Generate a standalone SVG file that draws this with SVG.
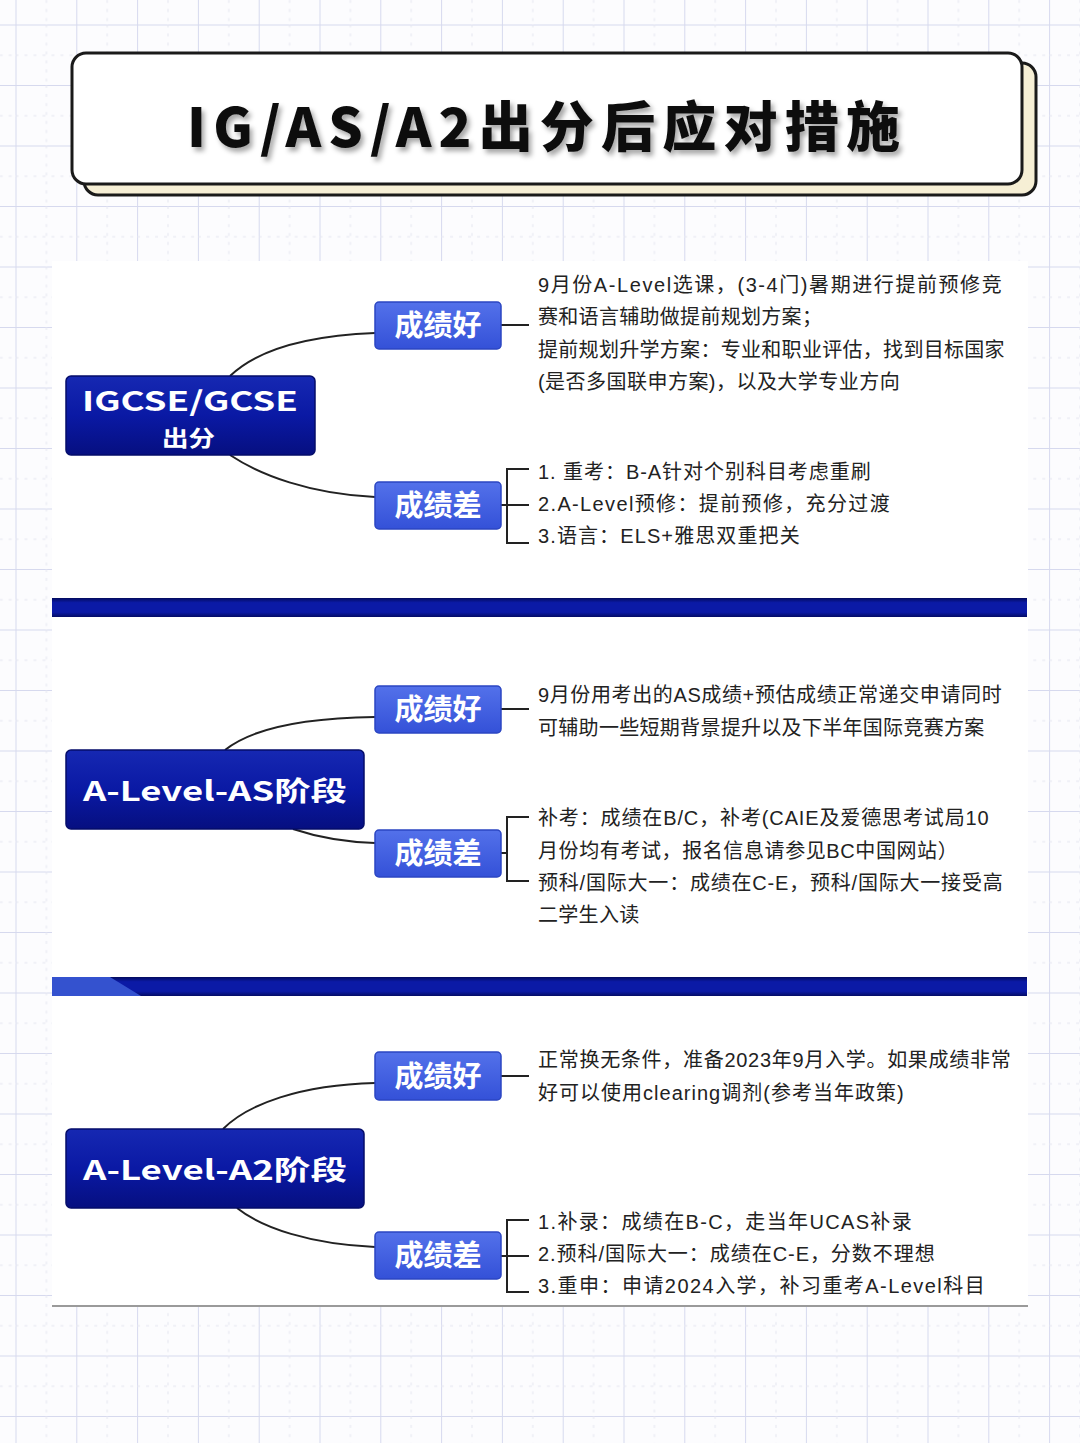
<svg xmlns="http://www.w3.org/2000/svg" width="1080" height="1443" viewBox="0 0 1080 1443">
<defs>
  <pattern id="grid" patternUnits="userSpaceOnUse" x="15.5" y="85" width="60.8" height="60.5">
    <line x1="0.5" y1="0" x2="0.5" y2="60.5" stroke="#d6d9ee" stroke-width="1"/>
    <line x1="0" y1="0.5" x2="60.8" y2="0.5" stroke="#d6d9ee" stroke-width="1"/>
    <line x1="30.9" y1="0" x2="30.9" y2="60.5" stroke="#e4e5f0" stroke-width="1" stroke-dasharray="3 6"/>
    <line x1="0" y1="30.75" x2="60.8" y2="30.75" stroke="#e4e5f0" stroke-width="1" stroke-dasharray="3 6"/>
  </pattern>
  <linearGradient id="rootGrad" x1="0" y1="0" x2="0" y2="1">
    <stop offset="0" stop-color="#1628b2"/>
    <stop offset="0.5" stop-color="#0a19a4"/>
    <stop offset="1" stop-color="#060f80"/>
  </linearGradient>
  <linearGradient id="childGrad" x1="0" y1="0" x2="0" y2="1">
    <stop offset="0" stop-color="#5371ea"/>
    <stop offset="1" stop-color="#3451d8"/>
  </linearGradient>
  <linearGradient id="barGrad" x1="0" y1="0" x2="0" y2="1">
    <stop offset="0" stop-color="#030b5e"/>
    <stop offset="0.25" stop-color="#0b1aa6"/>
    <stop offset="0.75" stop-color="#0b1aa6"/>
    <stop offset="1" stop-color="#040c66"/>
  </linearGradient>
  <filter id="titleShadow" x="-5%" y="-30%" width="110%" height="160%">
    <feDropShadow dx="3" dy="4" stdDeviation="2.5" flood-color="#000" flood-opacity="0.35"/>
  </filter>
  <style>
    .conn { fill: none; stroke: #222; stroke-width: 2; }
    .root { fill: url(#rootGrad); stroke: #050d6a; stroke-width: 1.5; }
    .child { fill: url(#childGrad); stroke: #2b46c2; stroke-width: 1.5; }
    .rootTxt { fill: #fff; font-family: "Noto Sans CJK SC", "Liberation Sans", sans-serif; font-weight: bold; }
    .childTxt { fill: #fff; font-family: "Noto Sans CJK SC", sans-serif; font-weight: bold; font-size: 29px; text-anchor: middle; }
    .body { fill: #222; font-family: "Liberation Sans", "Noto Sans CJK SC", sans-serif; font-size: 20px; letter-spacing: 0.3px; }
    .bar { fill: url(#barGrad); }
  </style>
</defs>

<rect width="1080" height="1443" fill="#fcfcfe"/>
<rect width="1080" height="1443" fill="url(#grid)"/>

<g id="title">
  <rect x="84" y="63" width="952" height="132" rx="14" fill="#f6efd5" stroke="#1a1a1a" stroke-width="3"/>
  <rect x="72" y="53" width="950" height="131" rx="14" fill="#ffffff" stroke="#1a1a1a" stroke-width="3"/>
  <text x="187" y="147" textLength="713" lengthAdjust="spacing" filter="url(#titleShadow)" font-family="'Noto Sans CJK SC', sans-serif" font-weight="900" font-size="54" fill="#111">IG/AS/A2出分后应对措施</text>
</g>

<rect id="panel" x="52" y="261" width="976" height="1045" fill="#ffffff"/>
<line x1="52" y1="1306" x2="1028" y2="1306" stroke="#9a9a9a" stroke-width="2"/>

<g id="separators">
  <rect class="bar" x="52" y="598" width="975" height="19"/>
  <rect class="bar" x="52" y="977" width="975" height="19"/>
  <polygon points="52,977 110,977 141,996 52,996" fill="#3452cf"/>
</g>

<g id="connectors">
  <path class="conn" d="M230,376 C255,352 300,336 375,333"/>
  <path class="conn" d="M230,455 C260,475 310,494 375,497"/>
  <path class="conn" d="M501,325 H529"/>
  <path class="conn" d="M529,469 H507 V543 H529 M501,505 H529"/>

  <path class="conn" d="M225,750 C250,730 300,718 375,717"/>
  <path class="conn" d="M293,829 C320,838 345,842 375,843"/>
  <path class="conn" d="M501,709 H529"/>
  <path class="conn" d="M529,817 H507 V881 H529 M501,853 H507"/>

  <path class="conn" d="M223,1129 C248,1104 300,1085 375,1083"/>
  <path class="conn" d="M237,1208 C262,1228 310,1244 375,1247"/>
  <path class="conn" d="M501,1076 H529"/>
  <path class="conn" d="M529,1220 H507 V1292 H529 M501,1256 H529"/>
</g>

<g id="root-igcse">
  <rect class="root" x="66" y="376" width="249" height="79" rx="5"/>
  <text class="rootTxt" x="82" y="411" font-size="27" textLength="216" lengthAdjust="spacingAndGlyphs" font-family="'Liberation Sans', sans-serif">IGCSE/GCSE</text>
  <text class="rootTxt" x="162" y="446" font-size="22" textLength="53" lengthAdjust="spacingAndGlyphs">出分</text>
</g>
<g id="s1-good">
  <rect class="child" x="375" y="302" width="126" height="47" rx="4"/>
  <text class="childTxt" x="438" y="336">成绩好</text>
</g>
<g id="s1-bad">
  <rect class="child" x="375" y="482" width="126" height="47" rx="4"/>
  <text class="childTxt" x="438" y="516">成绩差</text>
</g>
<g id="s1-good-text">
  <text class="body" x="538" y="292" textLength="464" lengthAdjust="spacing">9月份A-Level选课，(3-4门)暑期进行提前预修竞</text>
  <text class="body" x="538" y="324">赛和语言辅助做提前规划方案；</text>
  <text class="body" x="538" y="356.5">提前规划升学方案：专业和职业评估，找到目标国家</text>
  <text class="body" x="538" y="388.5" textLength="362" lengthAdjust="spacing">(是否多国联申方案)，以及大学专业方向</text>
</g>
<g id="s1-bad-text">
  <text class="body" x="538" y="478.5" textLength="333" lengthAdjust="spacing">1. 重考：B-A针对个别科目考虑重刷</text>
  <text class="body" x="538" y="510.5" textLength="352" lengthAdjust="spacing">2.A-Level预修：提前预修，充分过渡</text>
  <text class="body" x="538" y="542.5" textLength="262" lengthAdjust="spacing">3.语言：ELS+雅思双重把关</text>
</g>

<g id="root-as">
  <rect class="root" x="66" y="750" width="298" height="79" rx="5"/>
  <text class="rootTxt" x="83" y="801" font-size="27" textLength="264" lengthAdjust="spacingAndGlyphs">A-Level-AS阶段</text>
</g>
<g id="s2-good">
  <rect class="child" x="375" y="686" width="126" height="47" rx="4"/>
  <text class="childTxt" x="438" y="720">成绩好</text>
</g>
<g id="s2-bad">
  <rect class="child" x="375" y="830" width="126" height="47" rx="4"/>
  <text class="childTxt" x="438" y="864">成绩差</text>
</g>
<g id="s2-good-text">
  <text class="body" x="538" y="702" textLength="464" lengthAdjust="spacing">9月份用考出的AS成绩+预估成绩正常递交申请同时</text>
  <text class="body" x="538" y="735">可辅助一些短期背景提升以及下半年国际竞赛方案</text>
</g>
<g id="s2-bad-text">
  <text class="body" x="538" y="825" textLength="451" lengthAdjust="spacing">补考：成绩在B/C，补考(CAIE及爱德思考试局10</text>
  <text class="body" x="538" y="857.5" textLength="420" lengthAdjust="spacing">月份均有考试，报名信息请参见BC中国网站）</text>
  <text class="body" x="538" y="890" textLength="465" lengthAdjust="spacing">预科/国际大一：成绩在C-E，预科/国际大一接受高</text>
  <text class="body" x="538" y="922">二学生入读</text>
</g>

<g id="root-a2">
  <rect class="root" x="66" y="1129" width="298" height="79" rx="5"/>
  <text class="rootTxt" x="83" y="1180" font-size="27" textLength="264" lengthAdjust="spacingAndGlyphs">A-Level-A2阶段</text>
</g>
<g id="s3-good">
  <rect class="child" x="375" y="1052" width="126" height="48" rx="4"/>
  <text class="childTxt" x="438" y="1087">成绩好</text>
</g>
<g id="s3-bad">
  <rect class="child" x="375" y="1232" width="126" height="47" rx="4"/>
  <text class="childTxt" x="438" y="1266">成绩差</text>
</g>
<g id="s3-good-text">
  <text class="body" x="538" y="1067" textLength="473" lengthAdjust="spacing">正常换无条件，准备2023年9月入学。如果成绩非常</text>
  <text class="body" x="538" y="1100" textLength="366" lengthAdjust="spacing">好可以使用clearing调剂(参考当年政策)</text>
</g>
<g id="s3-bad-text">
  <text class="body" x="538" y="1229" textLength="374" lengthAdjust="spacing">1.补录：成绩在B-C，走当年UCAS补录</text>
  <text class="body" x="538" y="1261" textLength="397" lengthAdjust="spacing">2.预科/国际大一：成绩在C-E，分数不理想</text>
  <text class="body" x="538" y="1293" textLength="447" lengthAdjust="spacing">3.重申：申请2024入学，补习重考A-Level科目</text>
</g>
</svg>
